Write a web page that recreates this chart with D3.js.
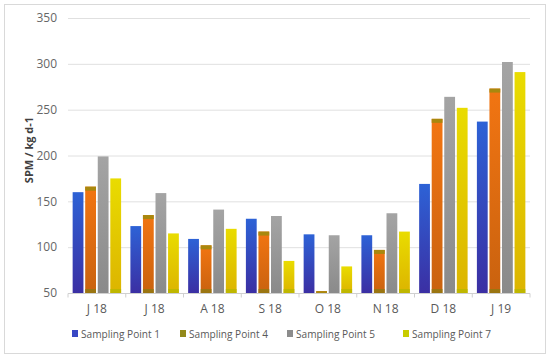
<!DOCTYPE html>
<html lang="en">
<head>
<meta charset="utf-8">
<script src="https://d3js.org/d3.v7.min.js"></script>
<style type="text/css">
body {
	margin: 0;
	background: #fff;
	font-family: "Open Sans", "Noto Sans", sans-serif;
}
</style>
</head>
<body>
<script type="text/javascript">

// chart data
const months = ['J 18', 'J 18 ', 'A 18', 'S 18', 'O 18', 'N 18', 'D 18', 'J 19']
const seriesNames = ['Sampling Point 1', 'Sampling Point 4', 'Sampling Point 5', 'Sampling Point 7']
const sp1 = [160, 123, 109, 131, 114, 113, 169, 237]
const sp4 = [166, 135, 102, 117, 52, 97, 240, 273]
const sp5 = [199, 159, 141, 134, 113, 137, 264, 302]
const sp7 = [175, 115, 120, 85, 79, 117, 252, 291]
const yTicks = [50, 100, 150, 200, 250, 300, 350]

const series = [sp1, sp4, sp5, sp7]

const width = 550
const height = 359
const margin = {top: 18, right: 20, bottom: 66, left: 68}

// gradient stops per series: top -> bottom
const grads = [
	[['0%', '#2d62d6'], ['100%', '#3b2fa3']],
	[['0%', '#f27512'], ['100%', '#c9620f']],
	[['0%', '#a4a4a4'], ['100%', '#8a8a8a']],
	[['0%', '#e9dc00'], ['100%', '#dcb400']]
]
// thin bands drawn on top / bottom of some bars (null = none)
const topBand = [null, '#a8880e', null, null]
const bottomBand = [null, '#8f7a12', null, '#b8b800']
const legendColors = ['#3847c4', '#93891a', '#8c8c8c', '#c8cc00']

const svg = d3.select('body')
	.append('svg')
	.attr('width', width)
	.attr('height', height)

const defs = svg.append('defs')
grads.forEach((g, i) => {
	const lg = defs.append('linearGradient')
		.attr('id', 'g' + i)
		.attr('x1', 0).attr('y1', 0).attr('x2', 0).attr('y2', 1)
	g.forEach(s => lg.append('stop').attr('offset', s[0]).attr('stop-color', s[1]))
})

// card frame
svg.append('rect')
	.attr('x', 4.5).attr('y', 4.5)
	.attr('width', 541).attr('height', 349)
	.attr('fill', '#fff')
	.attr('stroke', '#d9d9d9')

const x0 = d3.scaleBand()
	.domain(months)
	.range([margin.left, width - margin.right])
	.paddingInner(0.1)
	.paddingOuter(0.05)

const x1 = d3.scaleBand()
	.domain(d3.range(series.length))
	.range([0, x0.bandwidth()])
	.padding(0.14)

const y = d3.scaleLinear()
	.domain([50, 350])
	.range([height - margin.bottom, margin.top])

// gridlines
svg.append('g')
	.selectAll('line')
	.data(yTicks.slice(1))
	.enter()
	.append('line')
	.attr('x1', margin.left)
	.attr('x2', width - margin.right)
	.attr('y1', d => y(d) + 0.5)
	.attr('y2', d => y(d) + 0.5)
	.attr('stroke', '#e0e0e0')

// y tick labels
svg.append('g')
	.selectAll('text')
	.data(yTicks)
	.enter()
	.append('text')
	.attr('x', 57)
	.attr('y', d => y(d))
	.attr('dy', '0.35em')
	.attr('text-anchor', 'end')
	.attr('fill', '#666')
	.style('font-size', '12px')
	.text(d => d)

// y axis title
svg.append('text')
	.attr('transform', 'translate(33,' + 150 + ') rotate(-90)')
	.attr('text-anchor', 'middle')
	.attr('fill', '#404040')
	.style('font-size', '11px')
	.style('font-weight', 'bold')
	.text('SPM / kg d-1')

// bars
const groups = svg.append('g')
	.selectAll('g')
	.data(months)
	.enter()
	.append('g')
	.attr('transform', d => 'translate(' + x0(d) + ',0)')

const bars = groups.selectAll('g')
	.data((d, i) => series.map((s, k) => ({k: k, v: s[i]})))
	.enter()
	.append('g')

bars.append('rect')
	.attr('x', d => x1(d.k))
	.attr('y', d => y(d.v))
	.attr('width', x1.bandwidth())
	.attr('height', d => y(50) - y(d.v))
	.attr('fill', d => 'url(#g' + d.k + ')')

bars.filter(d => topBand[d.k])
	.append('rect')
	.attr('x', d => x1(d.k))
	.attr('y', d => y(d.v))
	.attr('width', x1.bandwidth())
	.attr('height', d => Math.min(4, y(50) - y(d.v)))
	.attr('fill', d => topBand[d.k])

bars.filter(d => bottomBand[d.k] && y(50) - y(d.v) > 8)
	.append('rect')
	.attr('x', d => x1(d.k))
	.attr('y', y(50) - 4)
	.attr('width', x1.bandwidth())
	.attr('height', 4)
	.attr('fill', d => bottomBand[d.k])
	.attr('opacity', 0.8)

// x axis line with tick marks between categories
const base = y(50) + 0.5
svg.append('line')
	.attr('x1', margin.left).attr('x2', width - margin.right)
	.attr('y1', base).attr('y2', base)
	.attr('stroke', '#d0d0d0')

svg.append('g')
	.selectAll('line')
	.data(d3.range(months.length + 1))
	.enter()
	.append('line')
	.attr('x1', i => margin.left + i * (width - margin.right - margin.left) / months.length)
	.attr('x2', i => margin.left + i * (width - margin.right - margin.left) / months.length)
	.attr('y1', base).attr('y2', base + 4)
	.attr('stroke', '#d0d0d0')

// x labels
svg.append('g')
	.selectAll('text')
	.data(months)
	.enter()
	.append('text')
	.attr('x', d => x0(d) + x0.bandwidth() / 2)
	.attr('y', 313)
	.attr('text-anchor', 'middle')
	.attr('fill', '#595959')
	.style('font-size', '12px')
	.text(d => d.trim())

// legend
const legendX = [72, 180, 287, 403]
const legend = svg.append('g')
	.selectAll('g')
	.data(seriesNames)
	.enter()
	.append('g')
	.attr('transform', (d, i) => 'translate(' + legendX[i] + ',334)')

legend.append('rect')
	.attr('x', 0).attr('y', -4)
	.attr('width', 6).attr('height', 7)
	.attr('fill', (d, i) => legendColors[i])

legend.append('text')
	.attr('x', 9)
	.attr('dy', '0.35em')
	.attr('fill', '#595959')
	.style('font-size', '11.5px')
	.attr('textLength', 79)
	.attr('lengthAdjust', 'spacingAndGlyphs')
	.text(d => d)

</script>
</body>
</html>
